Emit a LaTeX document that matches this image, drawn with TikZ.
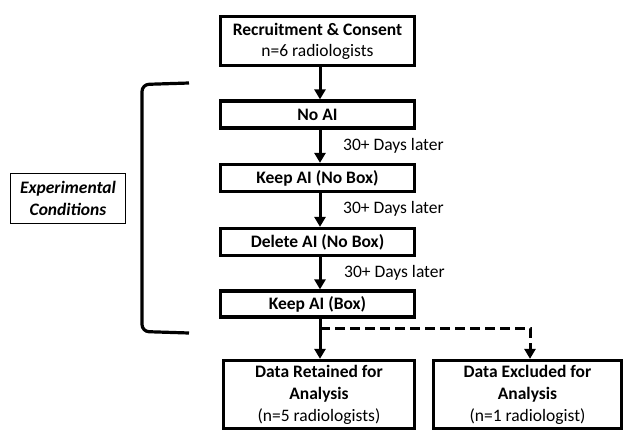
\documentclass[tikz,border=0pt]{standalone}
\usepackage{fontspec}
\setmainfont{Carlito}
\usetikzlibrary{arrows.meta,calc}
\begin{document}
\begin{tikzpicture}[x=1pt,y=-1pt,
  box/.style={draw,line width=3.2pt,align=center,inner sep=0pt,font=\fontsize{17.5}{21}\selectfont},
  arr/.style={line width=3pt,-{Triangle[width=11pt,length=10pt]}},
  lbl/.style={anchor=west,inner sep=0pt,font=\fontsize{17.5}{21}\selectfont}]
\useasboundingbox (0,0) rectangle (624,431);
\node[box,minimum width=194pt,minimum height=49pt] (rec) at (317.5,41) {\textbf{Recruitment \& Consent}\\n=6 radiologists};
\node[box,minimum width=194pt,minimum height=27pt] (noai) at (317.5,114.5) {\textbf{No AI}};
\node[box,minimum width=194pt,minimum height=27pt] (keepnb) at (317.5,178) {\textbf{Keep AI (No Box)}};
\node[box,minimum width=194pt,minimum height=27pt] (delnb) at (317.5,242) {\textbf{Delete AI (No Box)}};
\node[box,minimum width=194pt,minimum height=26pt] (keepb) at (317.5,304) {\textbf{Keep AI (Box)}};
\node[box,minimum width=191pt,minimum height=68pt,font=\fontsize{17.5}{22}\selectfont] (ret) at (319,394.5) {\textbf{Data Retained for}\\\textbf{Analysis}\\(n=5 radiologists)};
\node[box,minimum width=188pt,minimum height=68pt,font=\fontsize{17.5}{22}\selectfont] (exc) at (527.5,394.5) {\textbf{Data Excluded for}\\\textbf{Analysis}\\(n=1 radiologist)};
\node[draw,line width=1.5pt,minimum width=115pt,minimum height=50pt,align=center,inner sep=0pt,font=\fontsize{17.5}{22}\selectfont\bfseries\itshape] (exp) at (68,198.5) {Experimental\\Conditions};
\coordinate (ax) at (320,0);
\draw[arr] (ax |- rec.south) -- (ax |- noai.north);
\draw[arr] (ax |- noai.south) -- (ax |- keepnb.north);
\draw[arr] (ax |- keepnb.south) -- (ax |- delnb.north);
\draw[arr] (ax |- delnb.south) -- (ax |- keepb.north);
\draw[arr] (ax |- keepb.south) -- (ax |- ret.north);
\coordinate (split) at (320,328);
\coordinate (ex) at (530,0);
\draw[arr,dash pattern=on 10pt off 5pt] (split) -| (ex |- exc.north);
\node[lbl] (l1) at (343,146) {30+ Days later};
\node[lbl] (l2) at (343,209) {30+ Days later};
\node[lbl] (l3) at (344,273) {30+ Days later};
\draw[line width=3.2pt,rounded corners=7pt] (189,83) -- (142,84.5) -- (142,331.5) -- (189,333);
\end{tikzpicture}
\end{document}
